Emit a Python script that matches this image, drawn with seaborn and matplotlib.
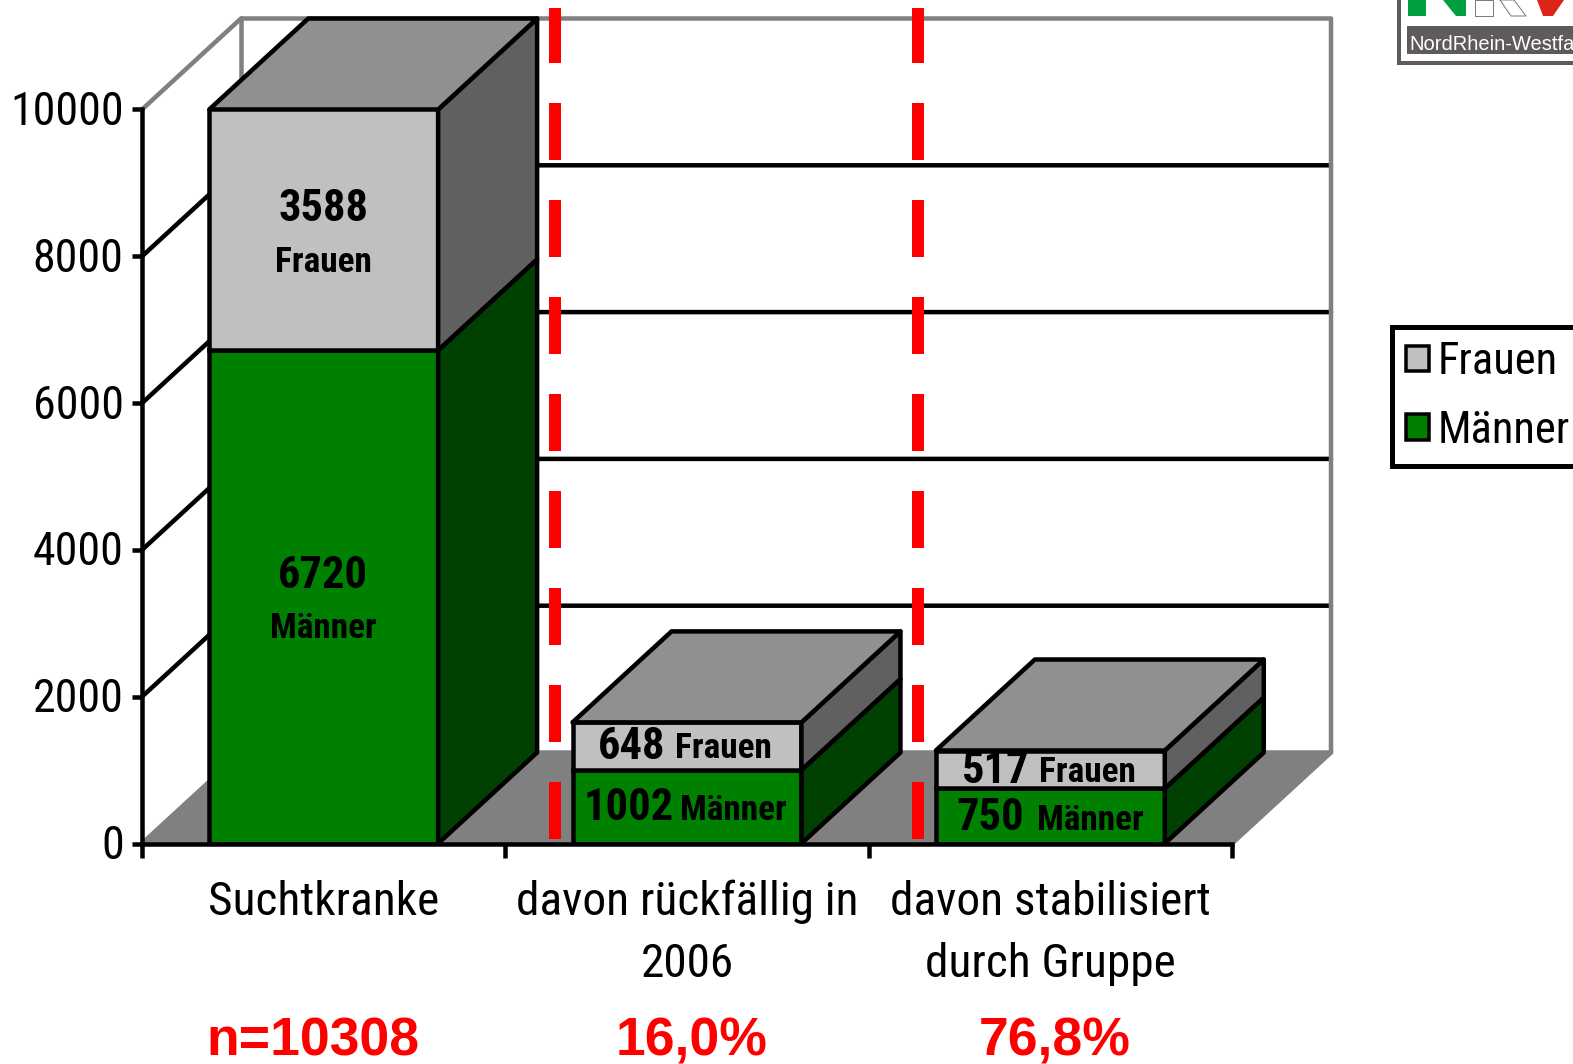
import matplotlib
matplotlib.use("Agg")
import matplotlib.pyplot as plt
import matplotlib.transforms as mtrans
import seaborn as sns
from matplotlib.patches import Patch, Polygon, Rectangle

categories = ["Suchtkranke", "davon rückfällig in\n2006", "davon stabilisiert\ndurch Gruppe"]
maenner = [6720, 1002, 750]
frauen = [3588, 648, 517]
yticks = [0, 2000, 4000, 6000, 8000, 10000]
percent_labels = ["n=10308", "16,0%", "76,8%"]
percent_x = [313, 692, 1055]

W, H = 1573, 1064
DPI = 100
PX = 72 / DPI
LW = 4.5 * PX
GREEN = "#008000"
DARK_GREEN = "#004000"
LIGHT = "#C0C0C0"
SIDE = "#606060"
TOP = "#909090"
FLOOR = "#808080"
RED = "#FF0000"

sns.set_theme(style="white")
plt.rcParams["font.family"] = ["Roboto Condensed", "Liberation Sans", "DejaVu Sans"]

fig = plt.figure(figsize=(W / DPI, H / DPI), dpi=DPI)
ax = fig.add_axes([142 / W, (H - 843.5) / H, 1090 / W, 734 / H])

bar_width = 0.63
sns.barplot(x=categories, y=maenner, color=GREEN, saturation=1, width=bar_width,
            edgecolor="black", linewidth=LW, zorder=3, ax=ax)
sns.barplot(x=categories, y=frauen, bottom=maenner, color=LIGHT, saturation=1, width=bar_width,
            edgecolor="black", linewidth=LW, zorder=3, ax=ax)
ax.set_xlim(-0.5, 2.5)
ax.set_ylim(0, 10000)

# depth of the fake 3d box, in data units
dx = 99 / (1090 / 3)
dy = 91 / 734 * 10000


def face(points, color, z, edge="black"):
    ax.add_patch(Polygon(points, closed=True, facecolor=color, edgecolor=edge,
                         linewidth=LW, clip_on=False, zorder=z, joinstyle="round"))


# floor and walls
face([(-0.5, 0), (-0.5 + dx, dy), (2.5 + dx, dy), (2.5, 0)], FLOOR, 0.5, edge=FLOOR)
for v in yticks[1:-1]:
    ax.plot([-0.5, -0.5 + dx, 2.5 + dx], [v, v + dy, v + dy], color="black",
            lw=LW, clip_on=False, zorder=0.7, solid_joinstyle="miter")
ax.plot([-0.5, -0.5 + dx, 2.5 + dx, 2.5 + dx], [10000, 10000 + dy, 10000 + dy, dy],
        color=FLOOR, lw=LW, clip_on=False, zorder=0.8)
ax.plot([-0.5 + dx, -0.5 + dx], [dy, 10000 + dy], color=FLOOR, lw=LW,
        clip_on=False, zorder=0.8)

# red separators
for xpos in [0.638, 1.637]:
    ax.plot([xpos, xpos], [60, 11380], color=RED, lw=12 * PX, clip_on=False, zorder=1,
            dashes=(57 / 12, 40 / 12), dash_capstyle="butt")

# box sides and tops
for i in range(len(categories)):
    right = i + bar_width / 2
    left = i - bar_width / 2
    total = min(maenner[i] + frauen[i], 10000)
    face([(right, 0), (right + dx, dy), (right + dx, maenner[i] + dy), (right, maenner[i])],
         DARK_GREEN, 3.1)
    face([(right, maenner[i]), (right + dx, maenner[i] + dy), (right + dx, total + dy), (right, total)],
         SIDE, 3.1)
    face([(left, total), (left + dx, total + dy), (right + dx, total + dy), (right, total)],
         TOP, 3.2)

# axes
sns.despine(ax=ax, top=True, right=True)
for s in ["left", "bottom"]:
    ax.spines[s].set_linewidth(LW)
    ax.spines[s].set_color("black")
    ax.spines[s].set_zorder(4)
ax.set_yticks(yticks)
ax.set_yticklabels([str(v) for v in yticks])
ax.tick_params(axis="y", which="major", direction="out", length=10 * PX, width=LW,
               labelsize=33, color="black", labelcolor="black", pad=6, left=True)
# nudge the y labels up a little
for lab in ax.get_yticklabels():
    lab.set_transform(lab.get_transform() + mtrans.ScaledTranslation(0, 2 / DPI, fig.dpi_scale_trans))
ax.set_xticks([-0.5, 0.5, 1.5, 2.5])
ax.set_xticklabels([])
ax.set_xticks(range(len(categories)), labels=categories, minor=True)
ax.tick_params(axis="x", which="major", direction="out", length=14 * PX, width=LW,
               color="black", bottom=True)
ax.tick_params(axis="x", which="minor", length=0, labelsize=34, labelcolor="black", pad=26)
for lab in ax.get_xticklabels(minor=True):
    lab.set_linespacing(1.52)


def px_text(x, y, s, **kw):
    fig.text(x / W, 1 - y / H, s, ha="center", va="center", color=kw.pop("color", "black"), **kw)


# labels inside the boxes
px_text(323, 209, str(frauen[0]), fontsize=32, fontweight="bold")
px_text(323, 263, "Frauen", fontsize=25.5, fontweight="bold")
px_text(323, 576, str(maenner[0]), fontsize=32, fontweight="bold")
px_text(323, 628, "Männer", fontsize=25.5, fontweight="bold")
px_text(632, 747, str(frauen[1]), fontsize=32, fontweight="bold")
px_text(723, 749, "Frauen", fontsize=25.5, fontweight="bold")
px_text(629, 808, str(maenner[1]), fontsize=32, fontweight="bold")
px_text(733, 810, "Männer", fontsize=25.5, fontweight="bold")
px_text(996, 771, str(frauen[2]), fontsize=32, fontweight="bold")
px_text(1087, 772, "Frauen", fontsize=25.5, fontweight="bold")
px_text(990, 818, str(maenner[2]), fontsize=32, fontweight="bold")
px_text(1090, 821, "Männer", fontsize=25.5, fontweight="bold")

# red summary line
for xp, s in zip(percent_x, percent_labels):
    px_text(xp, 1041, s, fontsize=38.5, fontweight="bold", color=RED, family="Liberation Sans")

# legend runs off the right edge like in the original
leg = fig.legend(handles=[Patch(facecolor=LIGHT, edgecolor="black", linewidth=3.5 * PX, label="Frauen"),
                          Patch(facecolor=GREEN, edgecolor="black", linewidth=3.5 * PX, label="Männer")],
                 loc="upper left", bbox_to_anchor=(1392 / W, 1 - 327 / H), fontsize=32,
                 fancybox=False, framealpha=1, edgecolor="black", borderaxespad=0, labelcolor="black",
                 handlelength=0.52, handleheight=0.52, handletextpad=0.18, labelspacing=0.6,
                 borderpad=0.32)
leg.get_frame().set_linewidth(5 * PX)

# logo fragment in the corner
fig.add_artist(Rectangle((1399 / W, 1 - 63 / H), 300 / W, 70 / H, facecolor="white",
                         edgecolor="#5F5B5A", linewidth=4 * PX, transform=fig.transFigure))
fig.add_artist(Rectangle((1407 / W, 1 - 54 / H), 170 / W, 28 / H, facecolor="#5F5B5A",
                         edgecolor="none", transform=fig.transFigure))


def logo_shape(points, color, edge="none"):
    fig.add_artist(Polygon([(x / W, 1 - y / H) for x, y in points], closed=True, facecolor=color,
                           edgecolor=edge, linewidth=0.7, transform=fig.transFigure))


logo_shape([(1408, 0), (1426, 0), (1426, 16), (1408, 16)], "#00A040")
logo_shape([(1443, 0), (1466, 0), (1466, 16), (1456, 16)], "#00A040")
logo_shape([(1475, 0), (1493, 0), (1493, 16), (1475, 16)], "white", edge="#777777")
logo_shape([(1500, 0), (1514, 0), (1526, 16), (1511, 16)], "white", edge="#777777")
logo_shape([(1537, 0), (1564, 0), (1553, 16), (1543, 16)], "#DD2418")
fig.text(1409 / W, 1 - 44 / H, "NordRhein-Westfalen", color="white", fontsize=14.5,
         family="Liberation Sans", va="center", ha="left")

fig.savefig("out.png", dpi=DPI)
